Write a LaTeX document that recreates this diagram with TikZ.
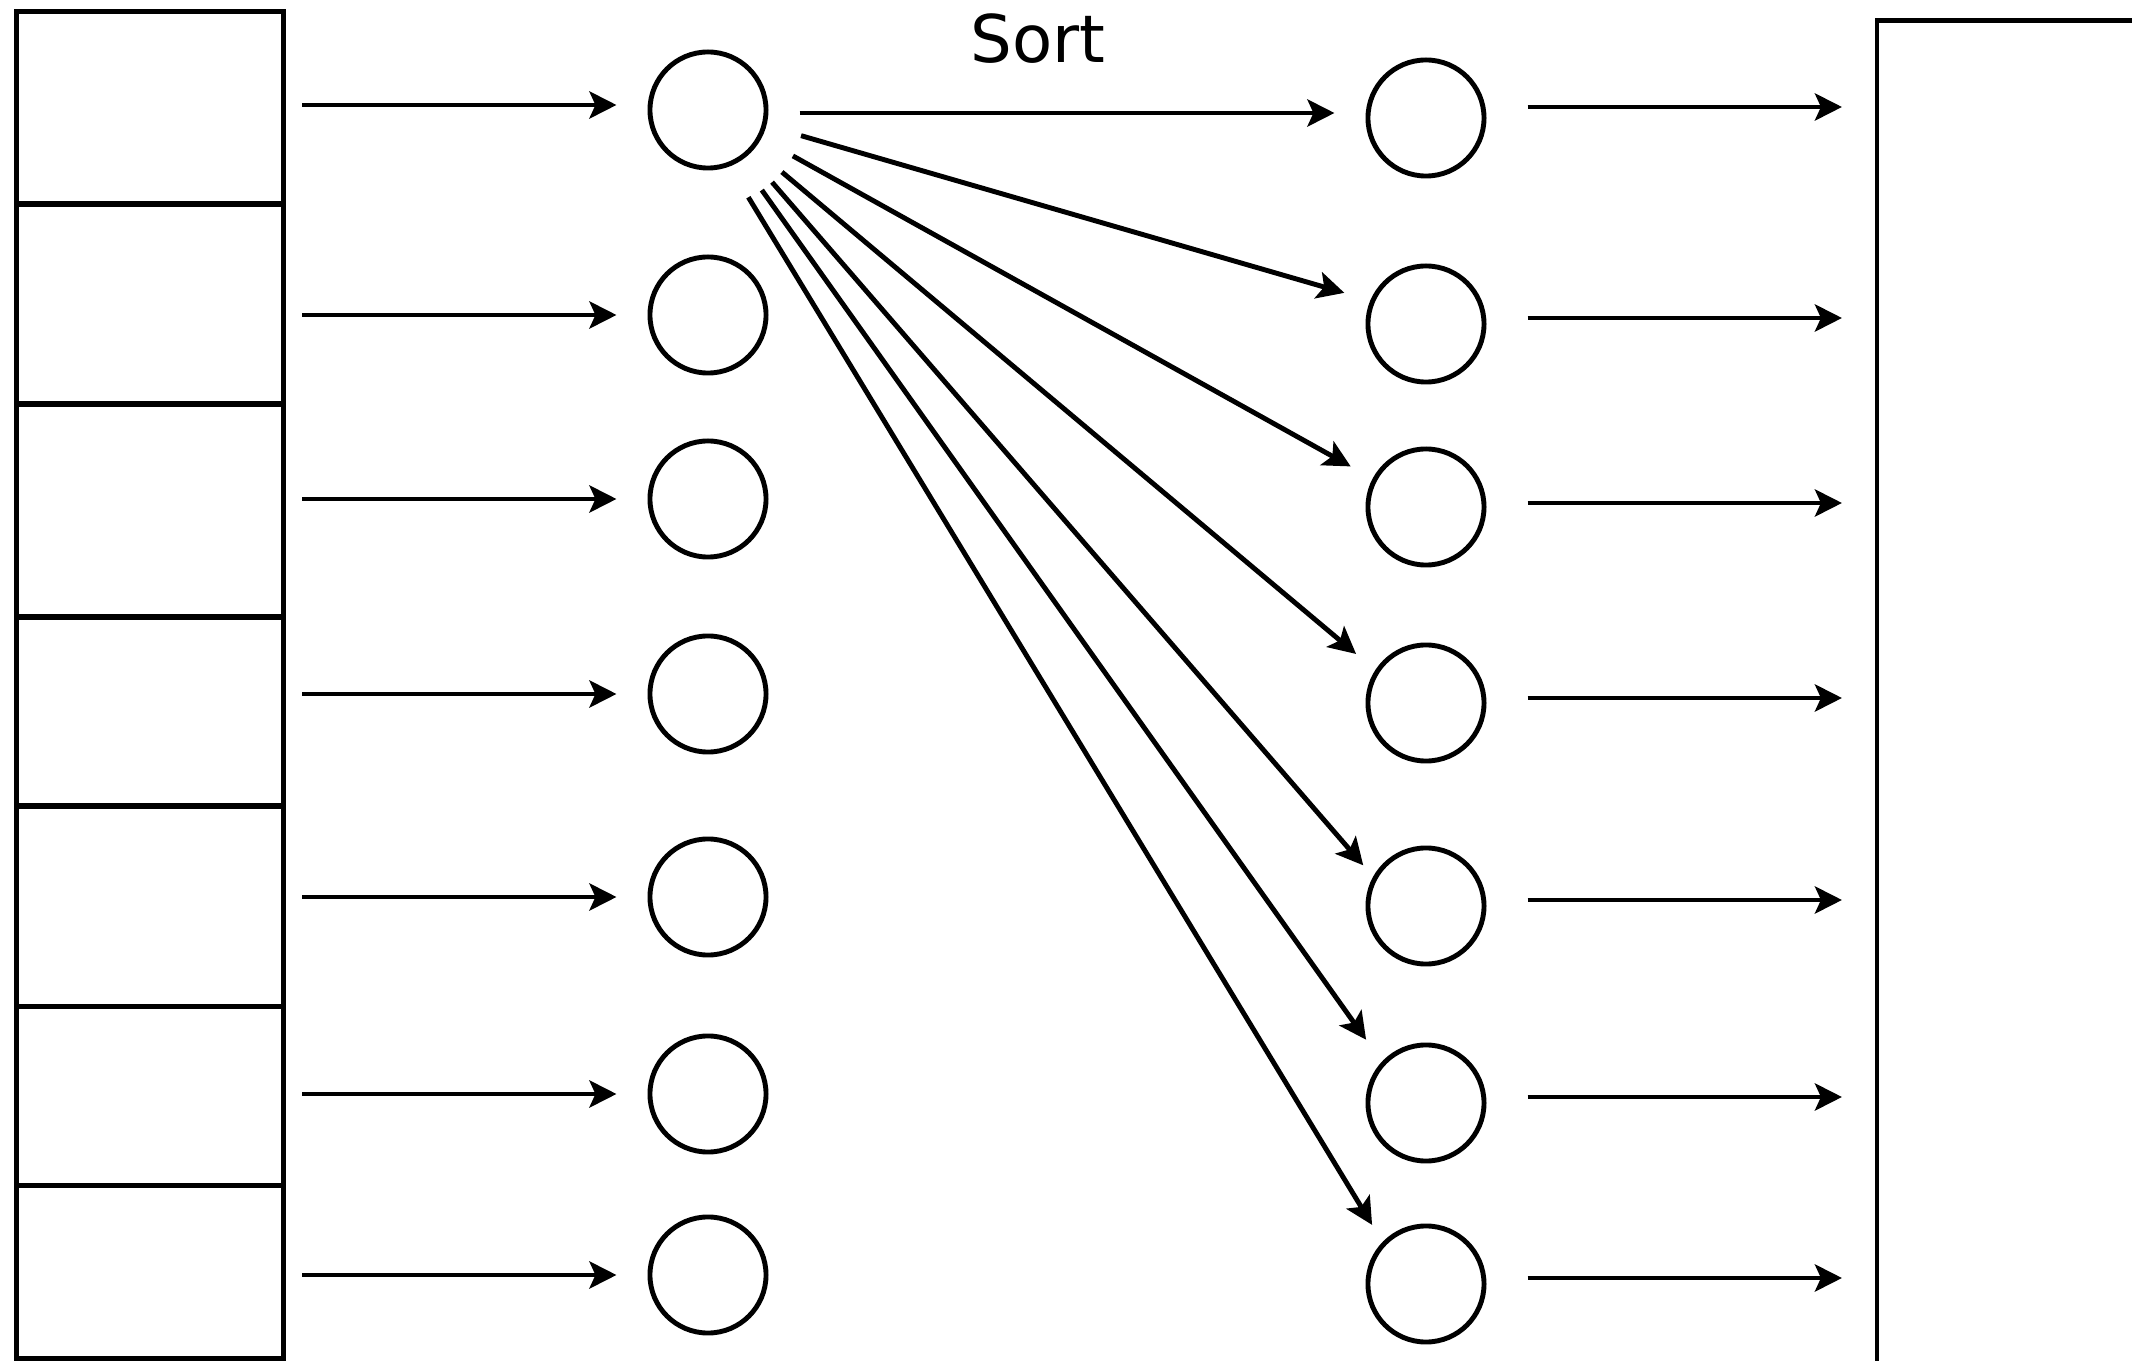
\documentclass[tikz,border=0pt]{standalone}
\usepackage{fontspec}
\setmainfont{DejaVu Sans}
\usepackage{tikz}
\usetikzlibrary{arrows.meta}

\begin{document}
\begin{tikzpicture}[x=0.01cm, y=-0.01cm, line width=1.4pt,
		cellbox/.style={draw, rectangle, minimum width=2.67cm, inner sep=0pt},
		slot/.style={draw, circle, minimum size=1.16cm, inner sep=0pt},
		flow/.style={-{Stealth[length=0.27cm, width=0.27cm, inset=0.06cm]}},
		feed/.style={flow, shorten <=0.16cm, shorten >=0.31cm},
		fan/.style={flow, shorten <=0.36cm},
		drain/.style={flow, shorten <=0.41cm, shorten >=0.35cm}]
			%%%%% START %%%%%
			
			\useasboundingbox (0, 0) rectangle (2132, 1361);
			\clip (0, 0) rectangle (2132, 1361);
			
			% input table
			\node[cellbox, minimum height=1.92cm] (cell1) at (150, 108) {};
			\node[cellbox, minimum height=2.00cm] (cell2) at (150, 304) {};
			\node[cellbox, minimum height=2.13cm] (cell3) at (150, 510.5) {};
			\node[cellbox, minimum height=1.89cm] (cell4) at (150, 711.5) {};
			\node[cellbox, minimum height=2.00cm] (cell5) at (150, 906) {};
			\node[cellbox, minimum height=1.79cm] (cell6) at (150, 1096) {};
			\node[cellbox, minimum height=1.725cm] (cell7) at (150, 1272) {};
			
			% first column of slots
			\node[slot] (a1) at (708, 110) {};
			\node[slot] (a2) at (708, 315) {};
			\node[slot] (a3) at (708, 499) {};
			\node[slot] (a4) at (708, 694) {};
			\node[slot] (a5) at (708, 897) {};
			\node[slot] (a6) at (708, 1094) {};
			\node[slot] (a7) at (708, 1275) {};
			
			% second column of slots
			\node[slot] (b1) at (1426, 118) {};
			\node[slot] (b2) at (1426, 324) {};
			\node[slot] (b3) at (1426, 507) {};
			\node[slot] (b4) at (1426, 703) {};
			\node[slot] (b5) at (1426, 906) {};
			\node[slot] (b6) at (1426, 1103) {};
			\node[slot] (b7) at (1426, 1284) {};
			
			% output block, runs off the page
			\coordinate (sink) at (1877, 20.5);
			\draw (1877, 1420) -- (sink) -- (2200, 20.5);
			
			\draw[feed] ([yshift=0.05cm]a1.west -| cell1.east) -- ([yshift=0.05cm]a1.west);
			\draw[feed] (cell2.east |- a2) -- (a2);
			\draw[feed] (cell3.east |- a3) -- (a3);
			\draw[feed] (cell4.east |- a4) -- (a4);
			\draw[feed] (cell5.east |- a5) -- (a5);
			\draw[feed] (cell6.east |- a6) -- (a6);
			\draw[feed] (cell7.east |- a7) -- (a7);
			
			\draw[flow, shorten <=0.31cm, shorten >=0.31cm] ([yshift=-0.03cm]a1.east) -- ([yshift=-0.03cm]a1.east -| b1.west);
			\node[anchor=base, font=\fontsize{18.7}{22}\selectfont] (sortlbl) at (1038, 63) {Sort};
			
			\draw[fan, shorten >=0.27cm] (a1.-15) -- (b2.157);
			\draw[fan, shorten >=0.25cm] (a1.-28) -- (b3.152);
			\draw[fan, shorten >=0.25cm] (a1.-40) -- (b4.147);
			\draw[fan, shorten >=0.15cm] (a1.-48) -- (b5.151);
			\draw[fan, shorten >=0.27cm] (a1.-57) -- (b6.137);
			\draw[fan, shorten >=0.20cm] (a1.-69) -- (b7.136);
			
			\draw[drain] ([yshift=0.11cm]b1.east) -- ([yshift=0.11cm]b1.east -| sink);
			\draw[drain] ([yshift=0.06cm]b2.east) -- ([yshift=0.06cm]b2.east -| sink);
			\draw[drain] ([yshift=0.04cm]b3.east) -- ([yshift=0.04cm]b3.east -| sink);
			\draw[drain] ([yshift=0.05cm]b4.east) -- ([yshift=0.05cm]b4.east -| sink);
			\draw[drain] ([yshift=0.06cm]b5.east) -- ([yshift=0.06cm]b5.east -| sink);
			\draw[drain] ([yshift=0.06cm]b6.east) -- ([yshift=0.06cm]b6.east -| sink);
			\draw[drain] ([yshift=0.06cm]b7.east) -- ([yshift=0.06cm]b7.east -| sink);
			
			%%%%% END %%%%%
		\end{tikzpicture}
\end{document}
